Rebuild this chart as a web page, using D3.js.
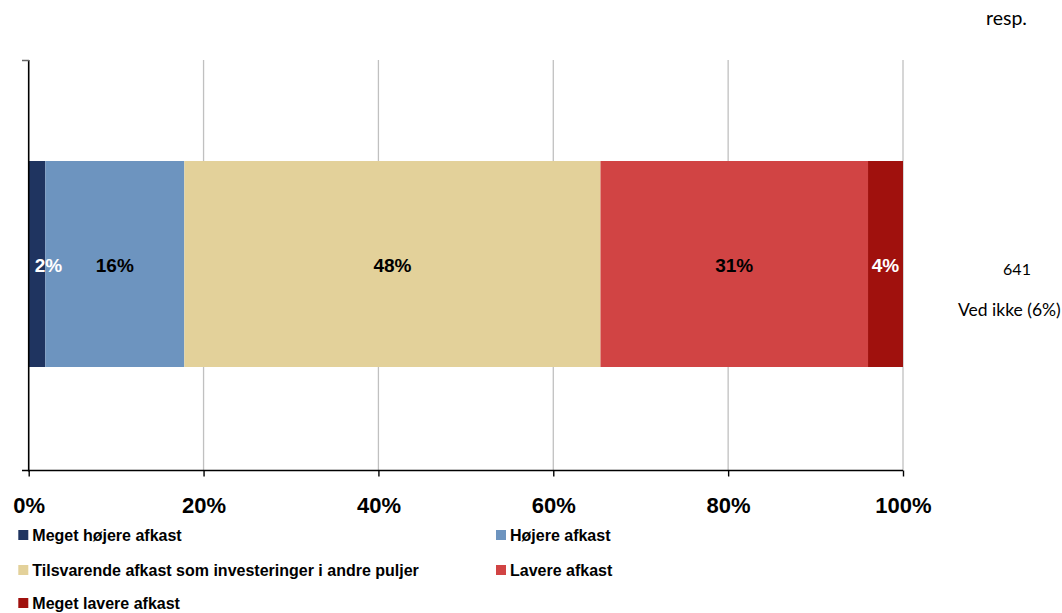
<!DOCTYPE html>
<html><head><meta charset="utf-8">
<script src="https://cdn.jsdelivr.net/npm/d3@7"></script>
<style>
html,body{margin:0;padding:0;background:#fff;}
svg{display:block;}
</style></head>
<body>
<svg id="chart" width="1062" height="613"></svg>
<script>
const categories = ["Meget højere afkast","Højere afkast","Tilsvarende afkast som investeringer i andre puljer","Lavere afkast","Meget lavere afkast"];
const values = [1.9, 15.9, 47.6, 30.6, 4.0];
const labels = ["2%","16%","48%","31%","4%"];
const colors = ["#1f3460","#6d94bf","#e3d19a","#d14444","#a0110d"];
const labelColors = ["#ffffff","#000000","#000000","#000000","#ffffff"];
const xTicks = [0,20,40,60,80,100];
const rowLabel = ["Respondenter"];
const nResp = ["641"];
const dontKnow = ["Ved ikke (6%)"];

const svg = d3.select("#chart");
const x = d3.scaleLinear().domain([0,100]).range([28.7,903]);
const y = d3.scaleBand().domain(rowLabel).range([60,470.5]).paddingInner(0).paddingOuter(0.25);

const fontA = "'Liberation Sans', Arial, sans-serif";
const fontG = "Lato, 'Open Sans', sans-serif";

// gridlines
svg.append("g").selectAll("line").data(xTicks.filter(d=>d>0)).join("line")
  .attr("x1",d=>x(d)).attr("x2",d=>x(d)).attr("y1",60).attr("y2",470.5)
  .attr("stroke","#c0c0c0").attr("stroke-width",1.3);

// stacked segments
let cum = 0;
const segs = values.map((v,i)=>{const s={i,v,x0:cum,x1:cum+v}; cum+=v; return s;});
const g = svg.append("g");
g.selectAll("rect").data(segs).join("rect")
  .attr("x",d=>x(d.x0)).attr("width",d=>x(d.x1)-x(d.x0))
  .attr("y",161).attr("height",206)
  .attr("fill",d=>colors[d.i]);

// left axis line
svg.append("line").attr("x1",28.7).attr("x2",28.7).attr("y1",60).attr("y2",471.5)
  .attr("stroke","#000").attr("stroke-width",1.6);
svg.append("line").attr("x1",22).attr("x2",29).attr("y1",60.5).attr("y2",60.5)
  .attr("stroke","#666").attr("stroke-width",1.5);

// x axis
const xa = svg.append("g").attr("transform","translate(0,470.5)")
  .call(d3.axisBottom(x).tickValues(xTicks).tickFormat(d=>d+"%").tickSize(6).tickSizeOuter(0));
xa.select(".domain").remove();
svg.append("line").attr("x1",22).attr("x2",903).attr("y1",470.5).attr("y2",470.5)
  .attr("stroke","#000").attr("stroke-width",1.6);
xa.selectAll(".tick line").attr("stroke","#000").attr("stroke-width",1.4);
xa.selectAll(".tick text").attr("y",42.5).attr("dy",0)
  .style("font-family",fontA).style("font-weight","bold").style("font-size","22px").attr("fill","#000");

// bar labels
const lbl = g.selectAll("text.lbl").data(segs).join("text").attr("class","lbl")
  .attr("y",272).attr("text-anchor","middle")
  .style("font-family",fontA).style("font-weight","bold").style("font-size","19px")
  .attr("fill",d=>labelColors[d.i]).text(d=>labels[d.i]);
lbl.attr("x",function(d){
  const c=(x(d.x0)+x(d.x1))/2; const w=this.getComputedTextLength();
  return Math.max(c, x(0)+w/2+6);
});

// right texts
svg.append("text").attr("x",1006.5).attr("y",25).attr("text-anchor","middle")
  .style("font-family",fontG).style("font-size","19.5px").attr("fill","#000").text("resp.");
svg.append("text").attr("x",1017).attr("y",275).attr("text-anchor","middle")
  .style("font-family",fontG).style("font-size","16px").attr("fill","#000").text(nResp[0]);
svg.append("text").attr("x",958).attr("y",316).attr("text-anchor","start")
  .style("font-family",fontG).style("font-size","17.5px").attr("fill","#000").text(dontKnow[0]);

// legend
const legPos = [[18.3,535],[496,535],[18.3,570],[496,570],[18.3,603]];
const leg = svg.append("g").selectAll("g").data(categories).join("g")
  .attr("transform",(d,i)=>`translate(${legPos[i][0]},${legPos[i][1]})`);
leg.append("rect").attr("x",0).attr("y",-5).attr("width",10).attr("height",10).attr("fill",(d,i)=>colors[i]);
leg.append("text").attr("x",14).attr("y",5.5)
  .style("font-family",fontA).style("font-weight","bold").style("font-size","16px").attr("fill","#000").text(d=>d);
</script>
</body></html>
